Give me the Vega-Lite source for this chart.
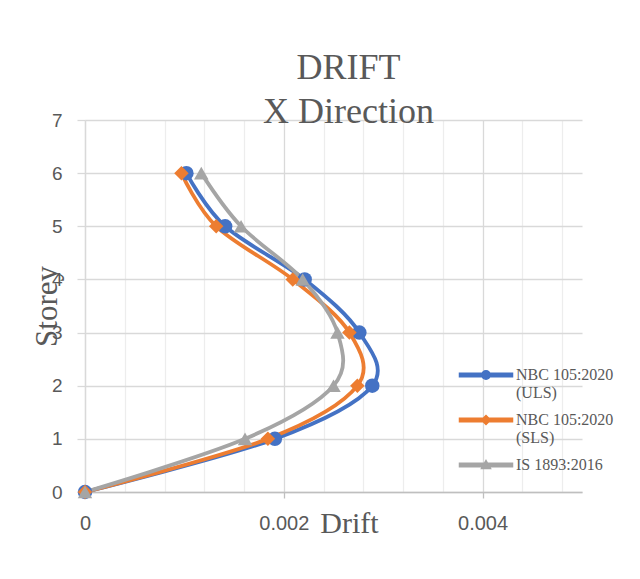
{
  "$schema": "https://vega.github.io/schema/vega-lite/v6.json",
  "width": 497,
  "height": 372,
  "autosize": {"type": "none"},
  "padding": {"left": 85, "top": 120, "right": 58, "bottom": 87},
  "background": "white",
  "title": {
    "text": ["DRIFT", "X Direction"],
    "font": "Liberation Serif",
    "fontSize": 36,
    "fontWeight": "normal",
    "color": "#595959",
    "lineHeight": 44,
    "anchor": "middle",
    "dx": 15,
    "offset": -48,
    "baseline": "alphabetic"
  },
  "data": {
    "values": [
      {"series": "NBC 105:2020 (ULS)", "storey": 0, "drift": 0},
      {"series": "NBC 105:2020 (ULS)", "storey": 1, "drift": 0.00191},
      {"series": "NBC 105:2020 (ULS)", "storey": 2, "drift": 0.00289},
      {"series": "NBC 105:2020 (ULS)", "storey": 3, "drift": 0.00276},
      {"series": "NBC 105:2020 (ULS)", "storey": 4, "drift": 0.00221},
      {"series": "NBC 105:2020 (ULS)", "storey": 5, "drift": 0.00141},
      {"series": "NBC 105:2020 (ULS)", "storey": 6, "drift": 0.00102},
      {"series": "NBC 105:2020 (SLS)", "storey": 0, "drift": 0},
      {"series": "NBC 105:2020 (SLS)", "storey": 1, "drift": 0.00184},
      {"series": "NBC 105:2020 (SLS)", "storey": 2, "drift": 0.00274},
      {"series": "NBC 105:2020 (SLS)", "storey": 3, "drift": 0.00266},
      {"series": "NBC 105:2020 (SLS)", "storey": 4, "drift": 0.00209},
      {"series": "NBC 105:2020 (SLS)", "storey": 5, "drift": 0.00132},
      {"series": "NBC 105:2020 (SLS)", "storey": 6, "drift": 0.00097},
      {"series": "IS 1893:2016", "storey": 0, "drift": 0},
      {"series": "IS 1893:2016", "storey": 1, "drift": 0.00161},
      {"series": "IS 1893:2016", "storey": 2, "drift": 0.0025},
      {"series": "IS 1893:2016", "storey": 3, "drift": 0.00254},
      {"series": "IS 1893:2016", "storey": 4, "drift": 0.00219},
      {"series": "IS 1893:2016", "storey": 5, "drift": 0.00157},
      {"series": "IS 1893:2016", "storey": 6, "drift": 0.00117}
    ]
  },
  "encoding": {
    "x": {
      "field": "drift",
      "type": "quantitative",
      "scale": {"domain": [0, 0.005], "nice": false, "zero": true},
      "axis": {
        "values": [0, 0.0004, 0.0008, 0.0012, 0.0016, 0.002, 0.0024, 0.0028, 0.0032, 0.0036, 0.004, 0.0044, 0.0048],
        "labelExpr": "round(datum.value*10000) % 20 == 0 ? format(datum.value, '.3~f') : ''",
        "labelFont": "Liberation Sans",
        "labelFontSize": 20,
        "labelColor": "#595959",
        "labelPadding": 15,
        "labelFlush": false,
        "labelOverlap": false,
        "gridColor": {"condition": {"test": "round(datum.value*10000) % 20 == 0", "value": "#d9d9d9"}, "value": "#ededed"},
        "gridWidth": 1.3,
        "tickOpacity": {"condition": {"test": "round(datum.value*10000) % 20 == 0", "value": 1}, "value": 0},
        "tickSize": 6,
        "tickColor": "#bfbfbf",
        "tickWidth": 1.3,
        "domainColor": "#bfbfbf",
        "domainWidth": 1.3,
        "title": "Drift",
        "titleFont": "Liberation Serif",
        "titleFontSize": 30,
        "titleFontWeight": "normal",
        "titleColor": "#595959",
        "titleX": 264,
        "titleY": 40,
        "titleBaseline": "alphabetic",
        "titleAlign": "center"
      }
    },
    "y": {
      "field": "storey",
      "type": "quantitative",
      "scale": {"domain": [0, 7], "nice": false},
      "axis": {
        "values": [0, 1, 2, 3, 4, 5, 6, 7],
        "format": "d",
        "labelFont": "Liberation Sans",
        "labelFontSize": 19,
        "labelColor": "#595959",
        "labelPadding": 15,
        "tickSize": 8,
        "tickColor": "#d9d9d9",
        "tickWidth": 1.3,
        "domainColor": "#d9d9d9",
        "domainWidth": 1.3,
        "gridColor": "#d9d9d9",
        "gridWidth": 1.3,
        "title": "Storey",
        "titleFont": "Liberation Serif",
        "titleFontSize": 31,
        "titleFontWeight": "normal",
        "titleColor": "#595959",
        "titleX": -22,
        "titleY": 186,
        "titleBaseline": "bottom",
        "titleAlign": "center",
        "titleAngle": 270
      }
    }
  },
  "layer": [
    {
      "mark": {"type": "point", "filled": true, "size": 0},
      "encoding": {
        "color": {
          "field": "series",
          "type": "nominal",
          "scale": {
            "domain": ["NBC 105:2020 (ULS)", "NBC 105:2020 (SLS)", "IS 1893:2016"],
            "range": ["#4472C4", "#ED7D31", "#A5A5A5"]
          },
          "legend": {
            "orient": "none",
            "legendX": 390,
            "legendY": 249,
            "title": null,
            "symbolSize": 400,
            "symbolOpacity": 1,
            "labelFont": "Liberation Serif",
            "labelFontSize": 16,
            "labelColor": "#595959",
            "labelOffset": 19,
            "labelLimit": 200,
            "labelBaseline": "alphabetic",
            "rowPadding": 11,
            "labelExpr": "datum.label == 'IS 1893:2016' ? datum.label : [slice(datum.label, 0, 12), slice(datum.label, 13)]"
          }
        },
        "shape": {
          "field": "series",
          "type": "nominal",
          "scale": {
            "domain": ["NBC 105:2020 (ULS)", "NBC 105:2020 (SLS)", "IS 1893:2016"],
            "range": [
              "M-2.65,-0.68H2.65V-0.32H-2.65Z M0.42,-0.5A0.42,0.42,0,1,1,-0.42,-0.5A0.42,0.42,0,1,1,0.42,-0.5Z",
              "M-2.65,-0.68H2.65V-0.32H-2.65Z M0,-0.95L0.45,-0.5L0,-0.05L-0.45,-0.5Z",
              "M-2.65,-0.68H2.65V-0.32H-2.65Z M0,-0.95L0.45,-0.15L-0.45,-0.15Z"
            ]
          },
          "legend": null
        }
      }
    },
    {
      "mark": {"type": "line", "interpolate": "cardinal", "strokeWidth": 3.8},
      "encoding": {
        "order": {"field": "storey", "type": "quantitative"},
        "color": {"field": "series", "type": "nominal", "legend": null}
      }
    },
    {
      "transform": [{"filter": "datum.series == 'NBC 105:2020 (ULS)'"}],
      "mark": {"type": "point", "shape": "circle", "filled": true, "size": 210, "opacity": 1},
      "encoding": {"color": {"field": "series", "type": "nominal", "legend": null}}
    },
    {
      "transform": [{"filter": "datum.series == 'NBC 105:2020 (SLS)'"}],
      "mark": {"type": "point", "shape": "diamond", "filled": true, "size": 210, "opacity": 1},
      "encoding": {"color": {"field": "series", "type": "nominal", "legend": null}}
    },
    {
      "transform": [{"filter": "datum.series == 'IS 1893:2016'"}],
      "mark": {"type": "point", "shape": "triangle-up", "filled": true, "size": 210, "opacity": 1},
      "encoding": {"color": {"field": "series", "type": "nominal", "legend": null}}
    }
  ],
  "config": {"view": {"stroke": null}}
}
